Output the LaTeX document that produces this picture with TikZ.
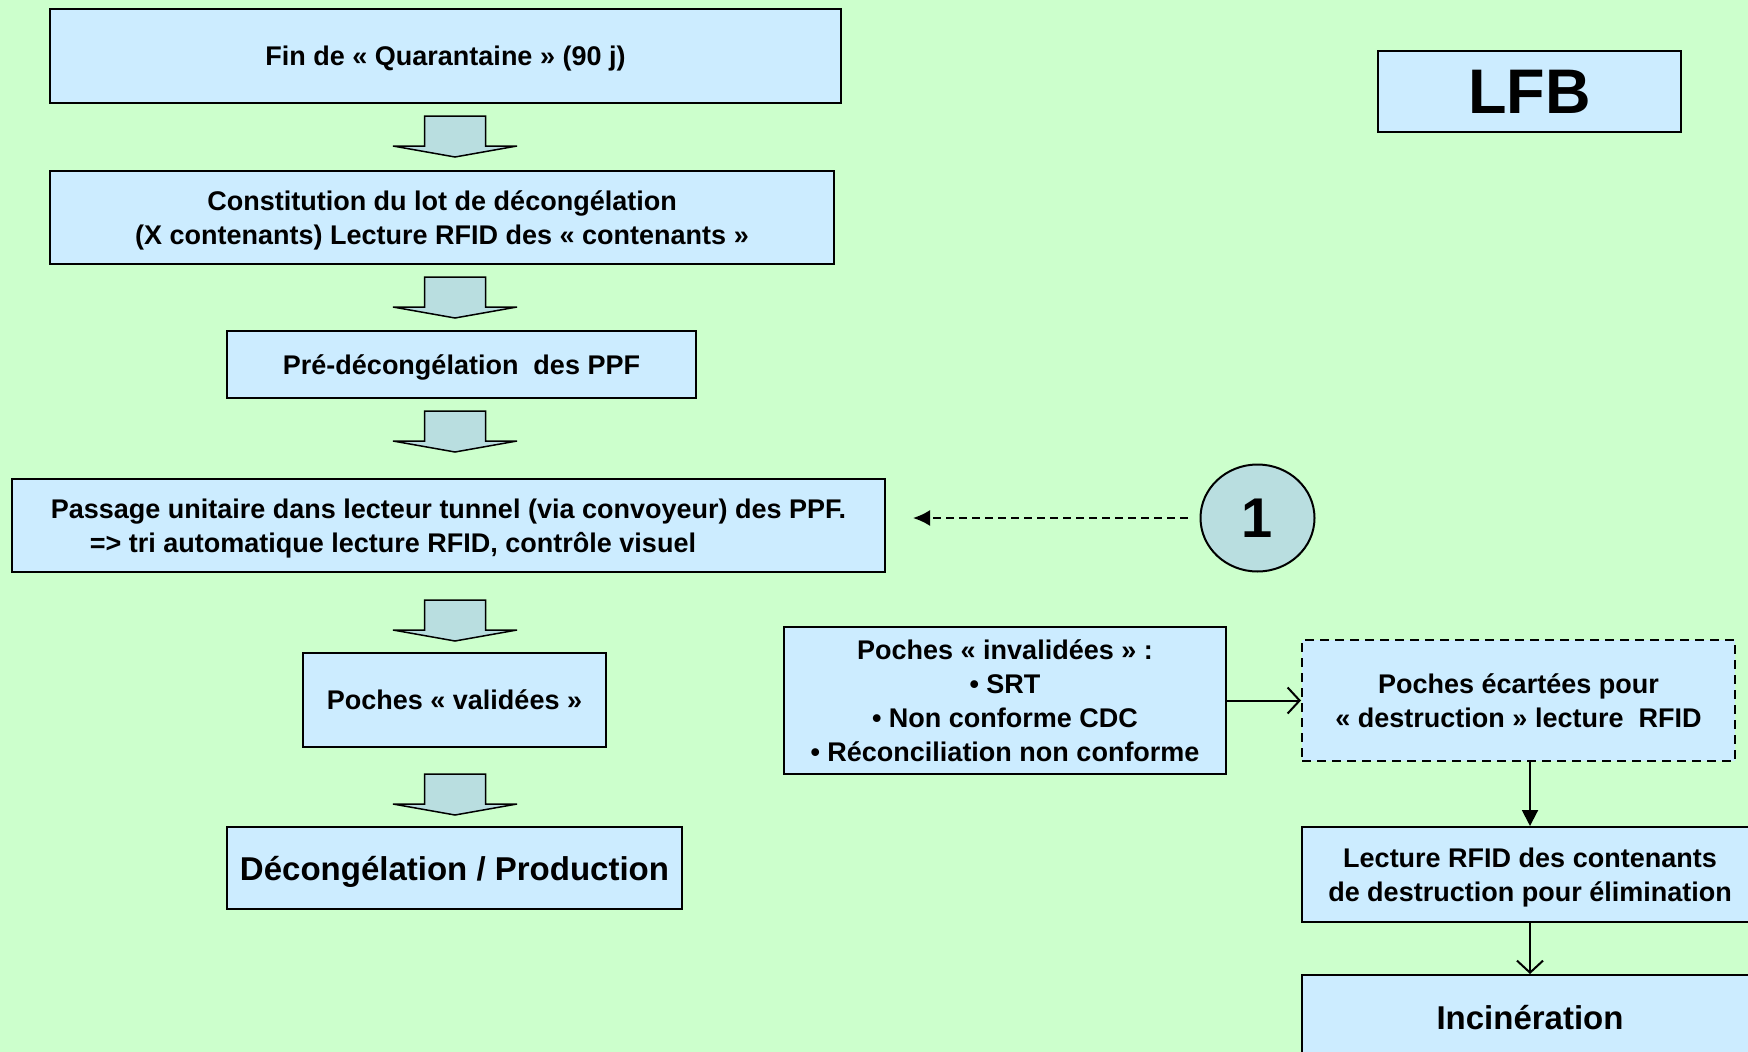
\documentclass[tikz,border=0pt]{standalone}
\usepackage{fontspec}
\setmainfont{Liberation Sans}
\usetikzlibrary{arrows.meta,calc,positioning,shapes.geometric}
\definecolor{fondvert}{RGB}{204,255,204}
\definecolor{bleuclair}{RGB}{204,236,255}
\definecolor{turquoise}{RGB}{185,222,224}
\tikzset{%
	etape/.style     = {draw, rectangle, fill=bleuclair, line width=2pt, align=center, inner sep=0pt, text depth=-3pt, font=\fontsize{27}{34}\selectfont\bfseries},
	grande/.style    = {etape, font=\fontsize{33}{40}\selectfont\bfseries},
	pointille/.style = {etape, dash pattern=on 9pt off 6pt},
	repere/.style    = {draw, ellipse, fill=turquoise, line width=2pt, inner sep=0pt, font=\fontsize{56}{60}\selectfont\bfseries},
	fleche/.style    = {line width=2pt, -{Triangle[length=16pt,width=16pt]}},
	ouverte/.style   = {line width=2pt, -{Straight Barb[length=12pt,width=26pt]}},
	pics/bloc/.style = {code={\draw[line width=1.5pt, fill=turquoise] (-30.5,0) -- (30.5,0) -- (30.5,30) -- (62,30) -- (0,41) -- (-62,30) -- (-30.5,30) -- cycle;}},
}
\begin{document}
\begin{tikzpicture}[x=1pt,y=-1pt]
		\useasboundingbox (0,0) rectangle (1748,1052);
		\clip (0,0) rectangle (1748,1052);
		\fill[fondvert] (0,0) rectangle (1748,1052);  % fond
		% colonne de gauche
		\node[etape, minimum width=791, minimum height=94] (quarantaine) at (445.5,56) {Fin de « Quarantaine » (90 j)};
		\node[etape, minimum width=784, minimum height=93] (lot) at (442,217.5) {Constitution du lot de décongélation\\(X contenants) Lecture RFID des « contenants »};
		\node[etape, minimum width=469, minimum height=67] (predecong) at (461.5,364.5) {Pré-décongélation\ \ des PPF};
		\node[etape, minimum width=873, minimum height=93, align=left] (tunnel) at (448.5,525.5) {Passage unitaire dans lecteur tunnel (via convoyeur) des PPF.\\\hspace*{39pt}=> tri automatique lecture RFID, contrôle visuel};
		\node[etape, minimum width=303, minimum height=94] (validees) at (454.5,700) {Poches « validées »};
		\node[grande, minimum width=455, minimum height=82] (production) at (454.5,868) {Décongélation / Production};
		\coordinate (axe) at (455,0);
		\foreach \haut/\dy in {quarantaine/12, lot/12, predecong/12, tunnel/27, validees/26}
			\path (axe |- \haut.south) ++(0,\dy) pic {bloc};
		% colonne de droite
		\node[etape, minimum width=303, minimum height=81, font=\fontsize{63}{63}\selectfont\bfseries] (lfb) at (1529.5,91.5) {LFB};
		\node[repere, minimum width=114, minimum height=107] (un) at (1257.5,518) {1};
		\node[etape, minimum width=442, minimum height=147] (invalidees) at (1005,700.5) {Poches « invalidées » :\\• SRT\\• Non conforme CDC\\• Réconciliation non conforme};
		\node[pointille, minimum width=433, minimum height=121] (ecartees) at (1518.5,700.5) {Poches écartées pour\\« destruction » lecture\ \ RFID};
		\node[etape, minimum width=456, minimum height=95] (lecture) at (1530,874.5) {Lecture RFID des contenants\\de destruction pour élimination};
		\node[grande, minimum width=456, minimum height=84] (incineration) at (1530,1017) {Incinération};
		\draw[line width=2pt, dash pattern=on 8pt off 5pt, -{Latex[length=17pt,width=16pt]}, shorten <=12pt, shorten >=27pt] (un.west) -- (un.west -| tunnel.east);
		\draw[ouverte] (invalidees) -- (ecartees);
		\draw[fleche] (lecture.north |- ecartees.south) -- (lecture.north);
		\draw[ouverte] (lecture) -- (incineration);
\end{tikzpicture}
\end{document}
